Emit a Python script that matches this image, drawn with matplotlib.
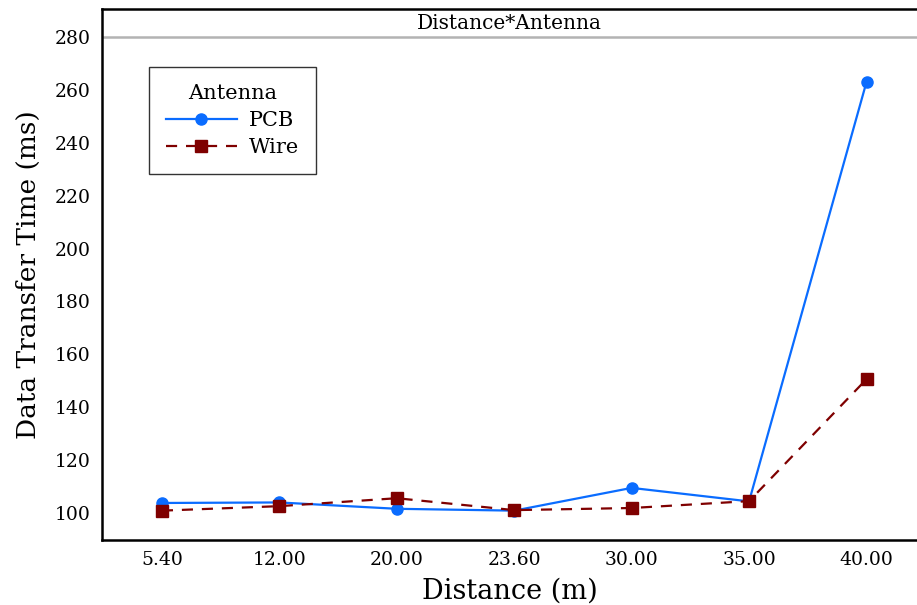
import matplotlib
matplotlib.use("Agg")
import matplotlib.pyplot as plt

# data
distances = ["5.40", "12.00", "20.00", "23.60", "30.00", "35.00", "40.00"]
pcb_ms = [103.8, 104.0, 101.6, 100.9, 109.5, 104.4, 263.0]
wire_ms = [100.9, 102.6, 105.6, 101.1, 101.9, 104.5, 150.6]
y_ticks = [100, 120, 140, 160, 180, 200, 220, 240, 260, 280]

plt.rcParams['font.family'] = ['DejaVu Serif']

fig = plt.figure(figsize=(9.17, 6.05), dpi=100)
ax = fig.add_axes([102 / 917, 65 / 605, 815 / 917, 531 / 605])

x = list(range(len(distances)))
ax.plot(x, pcb_ms, color="#0a6cff", lw=1.6, marker="o", ms=8, label="PCB")
ax.plot(x, wire_ms, color="#7f0000", lw=1.6, ls=(0, (5, 4)), marker="s", ms=8, label="Wire")

ax.set_xticks(x)
ax.set_xticklabels(distances)
ax.set_yticks(y_ticks)
ax.set_xlim(-0.51, 6.43)
ax.set_ylim(89.8, 290.6)
ax.tick_params(length=0, labelsize=13.5, pad=8)

# facet strip style header
ax.axhline(280, color="#b3b3b3", lw=1.8)
ax.text(0.5, (285.3 - 89.8) / (290.6 - 89.8), "Distance*Antenna", transform=ax.transAxes,
        ha="center", va="center", fontsize=14.5)

for s in ["left", "bottom", "top"]:
    ax.spines[s].set_linewidth(1.8)
ax.spines["right"].set_visible(False)

ax.set_xlabel("Distance (m)", fontsize=19.5, labelpad=6)
ax.set_ylabel("Data Transfer Time (ms)", fontsize=19, labelpad=10)

leg = ax.legend(title="Antenna", loc="upper left", bbox_to_anchor=(0.0577, 0.891),
                borderaxespad=0, fontsize=15, title_fontsize=15, fancybox=False,
                edgecolor="black", handlelength=3.4, handletextpad=0.6,
                borderpad=0.8, labelspacing=0.4)
leg.get_frame().set_linewidth(1.0)

fig.savefig("out.png", dpi=100)
